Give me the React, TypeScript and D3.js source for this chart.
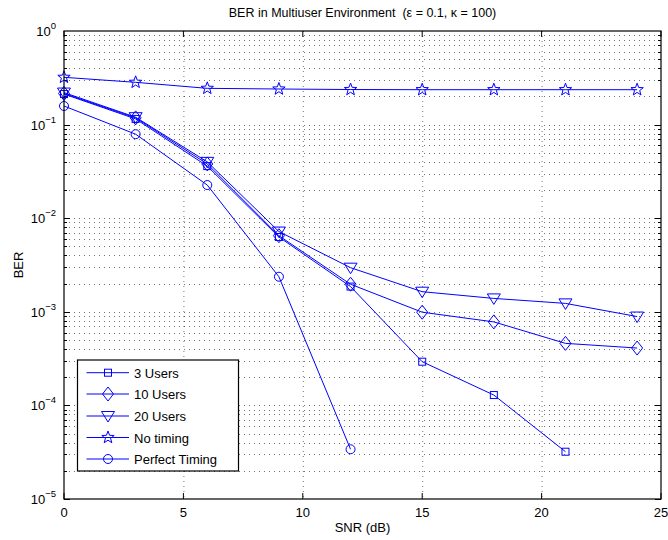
import React from "react";
import * as d3 from "d3";

const snr = [0, 3, 6, 9, 12, 15, 18, 21, 24];
const users3 = [0.212, 0.115, 0.036, 0.0063, 0.00186, 0.000293, 0.000129, 3.2e-5];
const users10 = [0.215, 0.118, 0.038, 0.0065, 0.00197, 0.00099, 0.00078, 0.00046, 0.00041];
const users20 = [0.22, 0.12, 0.04, 0.0072, 0.00296, 0.00164, 0.00139, 0.00123, 0.00089];
const noTiming = [0.32, 0.283, 0.244, 0.24, 0.237, 0.236, 0.236, 0.236, 0.236];
const perfect = [0.158, 0.079, 0.0226, 0.00237, 3.4e-5];
const seriesNames = ["3 Users", "10 Users", "20 Users", "No timing", "Perfect Timing"];
const markers = ["square", "diamond", "triangle", "star", "circle"];
const xTicks = [0, 5, 10, 15, 20, 25];
const yExps = [0, -1, -2, -3, -4, -5];

const W = 668, H = 540;
const L = 64, R = 661, T = 31, B = 499;
const BLUE = "#0000ff";
const FONT = "'Liberation Sans', Arial, sans-serif";

function markerPath(type: string, cx: number, cy: number): React.ReactElement {
  const common = { fill: "none", stroke: BLUE, strokeWidth: 1 };
  if (type === "square") return <rect x={cx - 3.5} y={cy - 3.5} width={7} height={7} {...common} />;
  if (type === "circle") return <circle cx={cx} cy={cy} r={4.5} {...common} />;
  if (type === "diamond")
    return <path d={`M${cx},${cy - 7}L${cx + 5.5},${cy}L${cx},${cy + 7}L${cx - 5.5},${cy}Z`} {...common} />;
  if (type === "triangle")
    return <path d={`M${cx - 6.5},${cy - 4.5}L${cx + 6.5},${cy - 4.5}L${cx},${cy + 6}Z`} {...common} />;
  // star
  const pts: string[] = [];
  for (let i = 0; i < 10; i++) {
    const r = i % 2 === 0 ? 6.5 : 2.7;
    const a = -Math.PI / 2 + (i * Math.PI) / 5;
    pts.push(`${cx + r * Math.cos(a)},${cy + r * Math.sin(a)}`);
  }
  return <path d={`M${pts.join("L")}Z`} {...common} />;
}

export default function App() {
  const x = d3.scaleLinear().domain([0, 25]).range([L, R]);
  const y = d3.scaleLog().domain([1e-5, 1]).range([B, T]);
  const data = [users3, users10, users20, noTiming, perfect];
  const line = d3
    .line<[number, number]>()
    .x((d) => x(d[0]))
    .y((d) => y(d[1]));

  const minorY: number[] = [];
  for (let e = -5; e < 0; e++) for (let k = 1; k <= 9; k++) minorY.push(k * Math.pow(10, e));

  const legendRows = [372.7, 394, 416, 437.5, 459];

  return (
    <svg width={W} height={H} style={{ position: "absolute", left: 0, top: 0, background: "#fff" }} fontFamily={FONT}>
      <rect x={0} y={0} width={W} height={H} fill="#fff" />
      {/* grid */}
      <g stroke="#000" strokeOpacity={0.55} strokeWidth={1} strokeDasharray="1,4">
        {xTicks.slice(1, -1).map((t) => (
          <line key={"gx" + t} x1={x(t) + 0.5} x2={x(t) + 0.5} y1={T} y2={B} />
        ))}
        {minorY.slice(1).map((v, i) => (
          <line key={"gy" + i} x1={L} x2={R} y1={Math.round(y(v)) + 0.5} y2={Math.round(y(v)) + 0.5} />
        ))}
      </g>
      {/* ticks */}
      <g stroke="#000" strokeWidth={1}>
        {xTicks.map((t) => (
          <g key={"tx" + t}>
            <line x1={x(t)} x2={x(t)} y1={B} y2={B - 6} />
            <line x1={x(t)} x2={x(t)} y1={T} y2={T + 6} />
          </g>
        ))}
        {minorY.map((v, i) => {
          const len = i % 9 === 0 ? 6 : 3;
          const yy = Math.round(y(v)) + 0.5;
          return (
            <g key={"ty" + i}>
              <line x1={L} x2={L + len} y1={yy} y2={yy} />
              <line x1={R} x2={R - len} y1={yy} y2={yy} />
            </g>
          );
        })}
      </g>
      {/* series */}
      {data.map((s, si) => {
        const pts = s.map((v, i) => [snr[i], v] as [number, number]);
        return (
          <g key={"s" + si}>
            <path d={line(pts) || ""} fill="none" stroke={BLUE} strokeWidth={1} />
            {pts.map((p, i) => (
              <g key={i}>{markerPath(markers[si], x(p[0]), y(p[1]))}</g>
            ))}
          </g>
        );
      })}
      {/* frame */}
      <rect x={L} y={T} width={R - L} height={B - T} fill="none" stroke="#000" strokeWidth={1.2} />
      {/* x tick labels */}
      {xTicks.map((t) => (
        <text key={"lx" + t} x={x(t)} y={517} fontSize={13} textAnchor="middle" fill="#000">
          {t}
        </text>
      ))}
      {/* y tick labels */}
      {yExps.map((e) => (
        <text key={"ly" + e} x={L - 8} y={y(Math.pow(10, e)) + 5} fontSize={13} textAnchor="end" fill="#000">
          10
          <tspan fontSize={9.5} dy={-7}>
            {e === 0 ? "0" : "\u2212" + -e}
          </tspan>
        </text>
      ))}
      <text x={(L + R) / 2} y={532} fontSize={13} textAnchor="middle" fill="#000">
        SNR (dB)
      </text>
      <text transform={`translate(23,${(T + B) / 2}) rotate(-90)`} fontSize={13} textAnchor="middle" fill="#000">
        BER
      </text>
      <text x={(L + R) / 2} y={17} fontSize={12.5} textAnchor="middle" fill="#000" style={{ whiteSpace: "pre" }}>
        {"BER in Multiuser Environment  (\u03b5 = 0.1, \u03ba = 100)"}
      </text>
      {/* legend */}
      <rect x={77.5} y={360} width={161} height={111} fill="#fff" stroke="#000" strokeWidth={1.2} />
      {seriesNames.map((n, i) => (
        <g key={"lg" + i}>
          <line x1={86.5} x2={129} y1={legendRows[i]} y2={legendRows[i]} stroke={BLUE} strokeWidth={1} />
          {markerPath(markers[i], 108, legendRows[i])}
          <text x={134} y={legendRows[i] + 5} fontSize={13} fill="#000">
            {n}
          </text>
        </g>
      ))}
    </svg>
  );
}
